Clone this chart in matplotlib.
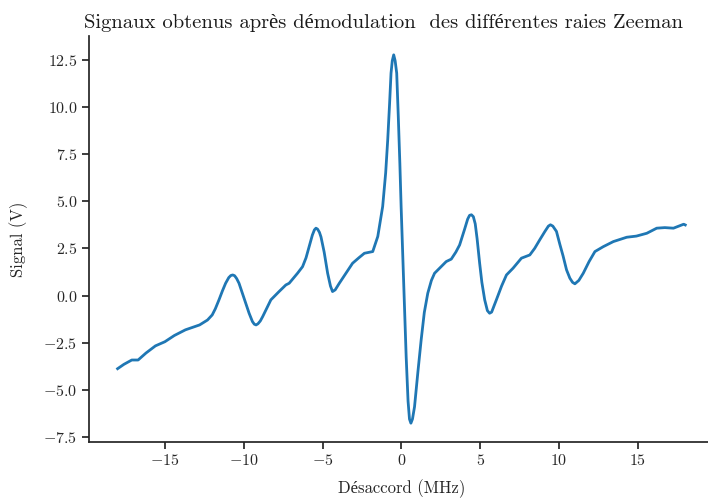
import numpy as np
import matplotlib
matplotlib.use("Agg")
import matplotlib.pyplot as plt

# Désaccord (MHz) et signal démodulé (V)
detuning = [-18.0, -17.6, -17.1, -16.7, -16.2, -15.6, -15.0, -14.4, -13.7, -12.8,
            -12.3, -12.0, -11.8, -11.57, -11.35, -11.15, -10.95, -10.82, -10.7, -10.58,
            -10.45, -10.3, -10.0, -9.66, -9.45, -9.33, -9.22, -9.1, -8.95, -8.8,
            -8.28, -7.76, -7.33, -7.12, -6.59, -6.27, -6.05, -5.85, -5.65, -5.52,
            -5.42, -5.32, -5.2, -5.1, -4.9, -4.68, -4.5, -4.37, -4.2, -3.94,
            -3.5, -3.1, -2.7, -2.35, -1.82, -1.5, -1.19, -1.0, -0.87, -0.75,
            -0.66, -0.58, -0.49, -0.4, -0.3, -0.2, -0.1, -0.02, 0.15, 0.3,
            0.42, 0.51, 0.6, 0.7, 0.83, 1.05, 1.25, 1.45, 1.67, 1.9,
            2.1, 2.42, 2.84, 3.16, 3.45, 3.69, 4.0, 4.2, 4.32, 4.44,
            4.56, 4.68, 4.8, 4.96, 5.1, 5.28, 5.45, 5.59, 5.72, 5.85,
            6.02, 6.35, 6.66, 7.08, 7.61, 8.14, 8.45, 8.77, 9.1, 9.32,
            9.45, 9.6, 9.83, 10.05, 10.25, 10.47, 10.68, 10.85, 11.0, 11.25,
            11.53, 11.9, 12.27, 12.8, 13.44, 14.29, 14.9, 15.56, 16.19, 16.7,
            17.25, 17.6, 17.9, 18.0]
signal = [-3.88, -3.65, -3.42, -3.42, -3.05, -2.67, -2.45, -2.12, -1.82, -1.56,
          -1.3, -1.03, -0.7, -0.23, 0.25, 0.65, 0.95, 1.06, 1.09, 1.05,
          0.9, 0.65, -0.1, -0.94, -1.38, -1.52, -1.56, -1.5, -1.35, -1.12,
          -0.23, 0.21, 0.56, 0.65, 1.18, 1.53, 2.0, 2.59, 3.2, 3.48,
          3.57, 3.52, 3.35, 3.1, 2.3, 1.18, 0.5, 0.21, 0.3, 0.65,
          1.2, 1.71, 2.0, 2.24, 2.33, 3.13, 4.72, 6.5, 8.25, 10.2,
          11.79, 12.45, 12.76, 12.45, 11.79, 9.5, 7.0, 4.72, 0.5, -3.24,
          -5.6, -6.55, -6.77, -6.55, -5.9, -4.0, -2.36, -0.9, 0.12, 0.8,
          1.18, 1.45, 1.8, 1.93, 2.3, 2.68, 3.5, 4.05, 4.25, 4.28,
          4.18, 3.8, 3.0, 1.71, 0.7, -0.23, -0.8, -0.94, -0.88, -0.6,
          -0.23, 0.5, 1.09, 1.45, 1.98, 2.15, 2.5, 2.95, 3.4, 3.68,
          3.75, 3.68, 3.4, 2.7, 2.1, 1.36, 0.92, 0.7, 0.62, 0.8,
          1.18, 1.8, 2.33, 2.59, 2.86, 3.09, 3.15, 3.3, 3.57, 3.6,
          3.57, 3.68, 3.78, 3.74]

plt.rcParams['font.family'] = ['cmr10', 'Liberation Serif']
plt.rcParams['mathtext.fontset'] = 'cm'
plt.rcParams['axes.formatter.use_mathtext'] = True
plt.rcParams['axes.unicode_minus'] = True

fig, ax = plt.subplots(figsize=(7.08, 4.99), dpi=100)
fig.subplots_adjust(left=0.126, right=1.008, bottom=0.115, top=0.927)

ax.plot(detuning, signal, color='#1f77b4', linewidth=2.0)

ax.set_title("Signaux obtenus après démodulation  des différentes raies Zeeman",
             fontsize=14.8, loc='left', x=-0.008, color='#1a1a1a')
ax.set_xlabel("Désaccord (MHz)", fontsize=12, color='#262626', labelpad=8)
ax.set_ylabel("Signal (V)", fontsize=12, color='#262626', labelpad=11)
ax.set_xticks([-15, -10, -5, 0, 5, 10, 15])
ax.set_yticks(np.arange(-7.5, 12.6, 2.5))
ax.tick_params(labelsize=11.5, labelcolor='#262626', color='#262626',
               length=5, width=1.25)
for side in ('top', 'right'):
    ax.spines[side].set_visible(False)
for side in ('left', 'bottom'):
    ax.spines[side].set_linewidth(1.25)
    ax.spines[side].set_color('#262626')

fig.savefig('out.png', dpi=100)
